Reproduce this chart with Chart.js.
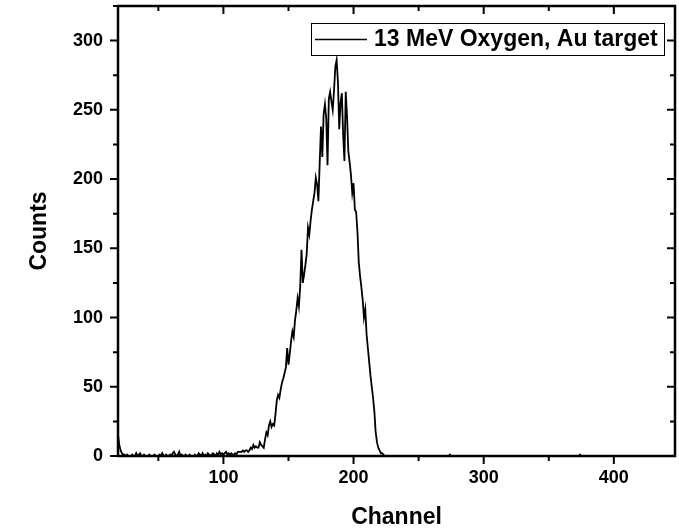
<!DOCTYPE html>
<html>
<head>
<meta charset="utf-8">
<script src="https://cdn.jsdelivr.net/npm/chart.js@4"></script>
<style>
  body { margin: 0; background: #fff; }
  #wrap { width: 679px; height: 531px; }
</style>
</head>
<body>
<div id="wrap"><canvas id="spectrum"></canvas></div>
<script>
// RBS spectrum, one count value per channel starting at firstChannel
const firstChannel = 19;
const lastChannel = 447;
const counts = [
  15, 8, 4, 2, 1, 1, 0, 1, 0, 0,          // 19-28
  0, 1, 0, 0, 2, 0, 1, 2, 0, 0,           // 29-38
  1, 0, 0, 0, 1, 0, 0, 0, 1, 0,           // 39-48
  0, 0, 1, 0, 2, 0, 0, 1, 0, 0,           // 49-58
  1, 0, 2, 3, 1, 0, 1, 3, 0, 1,           // 59-68
  0, 0, 1, 0, 0, 1, 0, 0, 0, 1,           // 69-78
  0, 0, 2, 1, 0, 2, 0, 1, 0, 2,           // 79-88
  1, 0, 1, 2, 1, 0, 2, 1, 3, 1,           // 89-98
  2, 1, 2, 3, 1, 2, 1, 2, 1, 1,           // 99-108
  2, 1, 3, 3, 3, 3, 4, 3, 4, 4,           // 109-118
  3, 4, 6, 5, 8, 6, 7, 6, 6, 10,          // 119-128
  8, 7, 6, 12, 17, 15, 22, 25, 21, 23,    // 129-138
  22, 30, 40, 44, 42, 48, 53, 56, 60, 64, // 139-148
  78, 66, 74, 83, 90, 86, 98, 105, 114, 108,      // 149-158
  122, 149, 125, 131, 138, 146, 165, 160, 170, 178, // 159-168
  184, 190, 201, 196, 184, 212, 238, 216, 247, 254, // 169-178
  244, 210, 258, 263, 256, 250, 264, 281, 286, 270, // 179-188
  236, 255, 262, 232, 213, 263, 245, 220, 212, 203, // 189-198
  190, 197, 178, 176, 162, 140, 130, 122, 113, 100, // 199-208
  106, 88, 78, 68, 58, 50, 42, 32, 17, 10,          // 209-218
  6, 4, 2, 2, 1, 0, 0, 0, 0, 0,           // 219-228
  0, 0, 0, 0, 0, 0, 0, 0, 0, 0,           // 229-238
  0, 0, 0, 0, 0, 0, 0, 0, 0, 0,           // 239-248
  0, 0, 0, 0, 0, 0, 0, 0, 0, 0,           // 249-258
  0, 0, 0, 0, 0, 0, 0, 0, 0, 0,           // 259-268
  0, 0, 0, 0, 0, 1, 0, 0, 0, 0,           // 269-278
  0, 0, 0, 0, 0, 0, 0, 0, 0, 0,           // 279-288
  0, 0, 0, 0, 0, 0, 0, 0, 0, 0,           // 289-298
  0, 0, 0, 0, 0, 0, 0, 0, 0, 0,           // 299-308
  0, 0, 0, 0, 0, 0, 0, 0, 0, 0,           // 309-318
  0, 0, 0, 0, 0, 0, 0, 0, 0, 0,           // 319-328
  0, 0, 0, 0, 0, 0, 0, 0, 0, 0,           // 329-338
  0, 0, 0, 0, 0, 0, 0, 0, 0, 0,           // 339-348
  0, 0, 0, 0, 0, 0, 0, 0, 0, 0,           // 349-358
  0, 0, 0, 0, 0, 0, 0, 0, 0, 0,           // 359-368
  0, 0, 0, 0, 0, 1, 0, 0, 0, 0,           // 369-378
  0, 0, 0, 0, 0, 0, 0, 0, 0, 0,           // 379-388
  0, 0, 0, 0, 0, 0, 0, 0, 0, 0,           // 389-398
  0, 0, 0, 0, 0, 0, 0, 0, 0, 0,           // 399-408
  0, 0, 0, 0, 0, 0, 0, 0, 0, 0,           // 409-418
  0, 0, 0, 0, 0, 0, 0, 0, 0, 0,           // 419-428
  0, 0, 0, 0, 0, 0, 0, 0, 0, 0,           // 429-438
  0, 0, 0, 0, 0, 0, 0, 0, 0               // 439-447
];
const seriesLabel = "13 MeV Oxygen, Au target";
const xTicks = [100, 200, 300, 400];
const yTicks = [0, 50, 100, 150, 200, 250, 300];
const yMax = 325;

const FONT = "'Liberation Sans', Arial, sans-serif";

// box frame with Origin-style ticks: out on bottom/left, in on top/right
const frame = {
  id: "frame",
  afterDraw(chart) {
    const { ctx, chartArea: a, scales: { x, y } } = chart;
    ctx.save();
    ctx.strokeStyle = "#000";
    ctx.lineWidth = 2.5;
    ctx.strokeRect(a.left, a.top, a.right - a.left, a.bottom - a.top);

    ctx.lineWidth = 2;
    ctx.beginPath();
    for (let v = 50; v <= x.max; v += 50) {
      const px = x.getPixelForValue(v);
      const len = xTicks.includes(v) ? 8 : 5;
      ctx.moveTo(px, a.bottom); ctx.lineTo(px, a.bottom + len);
      ctx.moveTo(px, a.top); ctx.lineTo(px, a.top + len);
    }
    for (let v = 0; v <= y.max; v += 25) {
      const py = y.getPixelForValue(v);
      const len = yTicks.includes(v) ? 8 : 5;
      ctx.moveTo(a.left, py); ctx.lineTo(a.left - len, py);
      ctx.moveTo(a.right, py); ctx.lineTo(a.right - len, py);
    }
    ctx.stroke();

    // legend box
    const ds = chart.data.datasets[0];
    const bx = 311, by = 23, bw = 353, bh = 32;
    ctx.lineWidth = 1;
    ctx.fillStyle = "#fff";
    ctx.fillRect(bx, by, bw, bh);
    ctx.strokeRect(bx + 0.5, by + 0.5, bw, bh);
    ctx.lineWidth = 1.5;
    ctx.beginPath();
    ctx.moveTo(bx + 4, by + bh / 2 + 0.5);
    ctx.lineTo(bx + 56, by + bh / 2 + 0.5);
    ctx.stroke();
    ctx.fillStyle = "#000";
    ctx.font = "bold 23px " + FONT;
    ctx.textBaseline = "middle";
    ctx.fillText(ds.label, bx + 63, by + bh / 2 + 1);
    ctx.restore();
  }
};

new Chart(document.getElementById("spectrum"), {
  type: "line",
  data: {
    datasets: [{
      label: seriesLabel,
      data: counts.map((c, i) => ({ x: firstChannel + i, y: c })),
      borderColor: "#000",
      borderWidth: 1.8,
      pointRadius: 0,
      tension: 0,
      fill: false
    }]
  },
  options: {
    responsive: true,
    maintainAspectRatio: false,
    animation: false,
    layout: { padding: { top: 6, right: 4, left: 0, bottom: 0 } },
    plugins: {
      legend: { display: false },
      tooltip: { enabled: false }
    },
    scales: {
      x: {
        type: "linear",
        min: firstChannel,
        max: lastChannel,
        afterFit(scale) {
          scale.height = 75;
          scale.paddingLeft = 0;
          scale.paddingRight = 0;
        },
        afterBuildTicks(scale) { scale.ticks = xTicks.map(v => ({ value: v })); },
        grid: { display: false, drawTicks: false },
        border: { display: false },
        ticks: {
          color: "#000",
          padding: 11,
          maxRotation: 0,
          font: { family: FONT, size: 18, weight: "bold" }
        },
        title: {
          display: true,
          text: "Channel",
          color: "#000",
          padding: 0,
          font: { family: FONT, size: 23, weight: "bold" }
        }
      },
      y: {
        min: 0,
        max: yMax,
        afterFit(scale) {
          scale.width = 118;
          scale.paddingTop = 0;
          scale.paddingBottom = 0;
        },
        afterBuildTicks(scale) { scale.ticks = yTicks.map(v => ({ value: v })); },
        grid: { display: false, drawTicks: false },
        border: { display: false },
        ticks: {
          color: "#000",
          padding: 15,
          font: { family: FONT, size: 18, weight: "bold" }
        },
        title: {
          display: true,
          text: "Counts",
          color: "#000",
          padding: 26,
          font: { family: FONT, size: 23, weight: "bold" }
        }
      }
    }
  },
  plugins: [frame]
});
</script>
</body>
</html>
